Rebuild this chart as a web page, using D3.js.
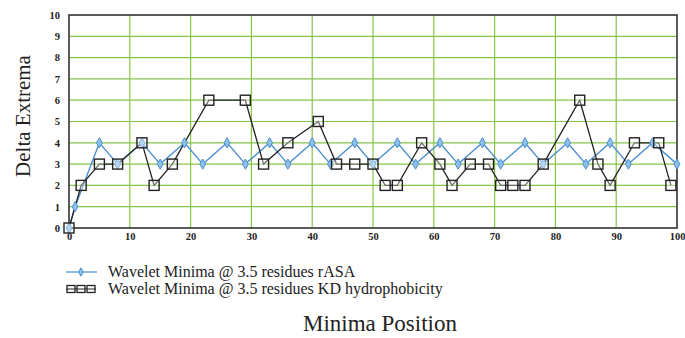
<!DOCTYPE html>
<html>
<head>
<meta charset="utf-8">
<script src="https://cdn.jsdelivr.net/npm/d3@7"></script>
<style>
  html, body { margin: 0; padding: 0; background: #fff; }
  svg { display: block; }
</style>
</head>
<body>
<div id="chart"></div>
<script>
const xTicks = [0, 10, 20, 30, 40, 50, 60, 70, 80, 90, 100];
const yTicks = [0, 1, 2, 3, 4, 5, 6, 7, 8, 9, 10];

// Wavelet Minima @ 3.5 residues rASA
const rasaX = [0, 1, 5, 8, 12, 15, 19, 22, 26, 29, 33, 36, 40, 43, 47, 50, 54, 57, 61, 64, 68, 71, 75, 78, 82, 85, 89, 92, 96, 100];
const rasaY = [0, 1, 4, 3, 4, 3, 4, 3, 4, 3, 4, 3, 4, 3, 4, 3, 4, 3, 4, 3, 4, 3, 4, 3, 4, 3, 4, 3, 4, 3];

// Wavelet Minima @ 3.5 residues KD hydrophobicity
const kdX = [0, 2, 5, 8, 12, 14, 17, 23, 29, 32, 36, 41, 44, 47, 50, 52, 54, 58, 61, 63, 66, 69, 71, 73, 75, 78, 84, 87, 89, 93, 97, 99];
const kdY = [0, 2, 3, 3, 4, 2, 3, 6, 6, 3, 4, 5, 3, 3, 3, 2, 2, 4, 3, 2, 3, 3, 2, 2, 2, 3, 6, 3, 2, 4, 4, 2];

const seriesNames = ['Wavelet Minima @ 3.5 residues rASA', 'Wavelet Minima @ 3.5 residues KD hydrophobicity'];

const W = 685, H = 338;
const m = { left: 69, right: 8, top: 15, bottom: 110 };
const SERIF = 'Liberation Serif';
const green = '#86c34a', blue = '#4b8fcf', ink = '#222';

const svg = d3.select('#chart').append('svg').attr('width', W).attr('height', H);
const x = d3.scaleLinear().domain([0, 100]).range([m.left, W - m.right]);
const y = d3.scaleLinear().domain([0, 10]).range([H - m.bottom, m.top]);

// grid
svg.append('g').selectAll('line').data(yTicks.slice(1, -1)).join('line')
  .attr('x1', x(0)).attr('x2', x(100)).attr('y1', d => y(d)).attr('y2', d => y(d))
  .attr('stroke', green).attr('stroke-width', 1.2);
svg.append('g').selectAll('line').data(xTicks.slice(1, -1)).join('line')
  .attr('y1', y(0)).attr('y2', y(10)).attr('x1', d => x(d)).attr('x2', d => x(d))
  .attr('stroke', green).attr('stroke-width', 1.2);

// frame
svg.append('rect').attr('x', x(0)).attr('y', y(10)).attr('width', x(100) - x(0)).attr('height', y(0) - y(10))
  .attr('fill', 'none').attr('stroke', '#333').attr('stroke-width', 1.6);

// axes
const xAxis = svg.append('g').attr('transform', `translate(0,${y(0)})`)
  .call(d3.axisBottom(x).tickValues(xTicks).tickSize(0).tickPadding(5));
const yAxis = svg.append('g').attr('transform', `translate(${x(0)},0)`)
  .call(d3.axisLeft(y).tickValues(yTicks).tickSize(0).tickPadding(9));
[xAxis, yAxis].forEach(a => {
  a.attr('font-family', null).attr('font-size', null);
  a.select('.domain').remove();
  a.selectAll('text').style('font-family', SERIF).style('font-size', '10.5px')
    .style('font-weight', 700).attr('fill', ink);
});

const rasa = rasaX.map((d, i) => [d, rasaY[i]]);
const kd = kdX.map((d, i) => [d, kdY[i]]);
const line = d3.line().x(d => x(d[0])).y(d => y(d[1]));

svg.append('path').datum(rasa).attr('d', line).attr('fill', 'none')
  .attr('stroke', blue).attr('stroke-width', 1.4);
svg.append('path').datum(kd).attr('d', line).attr('fill', 'none')
  .attr('stroke', ink).attr('stroke-width', 1.3);

const diamond = d3.symbol().type(d3.symbolDiamond).size(30);
svg.append('g').selectAll('path').data(rasa).join('path')
  .attr('d', diamond).attr('transform', d => `translate(${x(d[0])},${y(d[1])})`)
  .attr('fill', '#8ec0ea').attr('stroke', blue).attr('stroke-width', 1);

svg.append('g').selectAll('rect').data(kd).join('rect')
  .attr('x', d => x(d[0]) - 5).attr('y', d => y(d[1]) - 5).attr('width', 10).attr('height', 10)
  .attr('fill', 'rgba(255,255,255,0.35)').attr('stroke', ink).attr('stroke-width', 1.4);

// legend
const leg = svg.append('g');
leg.append('line').attr('x1', 66).attr('x2', 97).attr('y1', 272).attr('y2', 272).attr('stroke', blue).attr('stroke-width', 1.2);
leg.append('path').attr('d', d3.symbol().type(d3.symbolDiamond).size(20)()).attr('transform', 'translate(81,272)')
  .attr('fill', '#8ec0ea').attr('stroke', blue);
leg.append('line').attr('x1', 66).attr('x2', 96).attr('y1', 289).attr('y2', 289).attr('stroke', ink).attr('stroke-width', 1);
[71, 81, 91].forEach(cx => leg.append('rect').attr('x', cx - 4).attr('y', 285.5).attr('width', 8).attr('height', 7)
  .attr('fill', 'none').attr('stroke', ink).attr('stroke-width', 1.3));
leg.selectAll('text').data(seriesNames).join('text')
  .attr('x', 108).attr('y', (d, i) => 277 + i * 17)
  .style('font-family', SERIF).style('font-size', '16px').attr('fill', ink).text(d => d);

// titles
svg.append('text').attr('transform', `translate(30,${116}) rotate(-90)`)
  .attr('text-anchor', 'middle').style('font-family', SERIF).style('font-size', '21px').attr('fill', ink)
  .text('Delta Extrema');
svg.append('text').attr('x', 380).attr('y', 331).attr('text-anchor', 'middle')
  .style('font-family', SERIF).style('font-size', '23px').attr('fill', ink).text('Minima Position');
</script>
</body>
</html>
